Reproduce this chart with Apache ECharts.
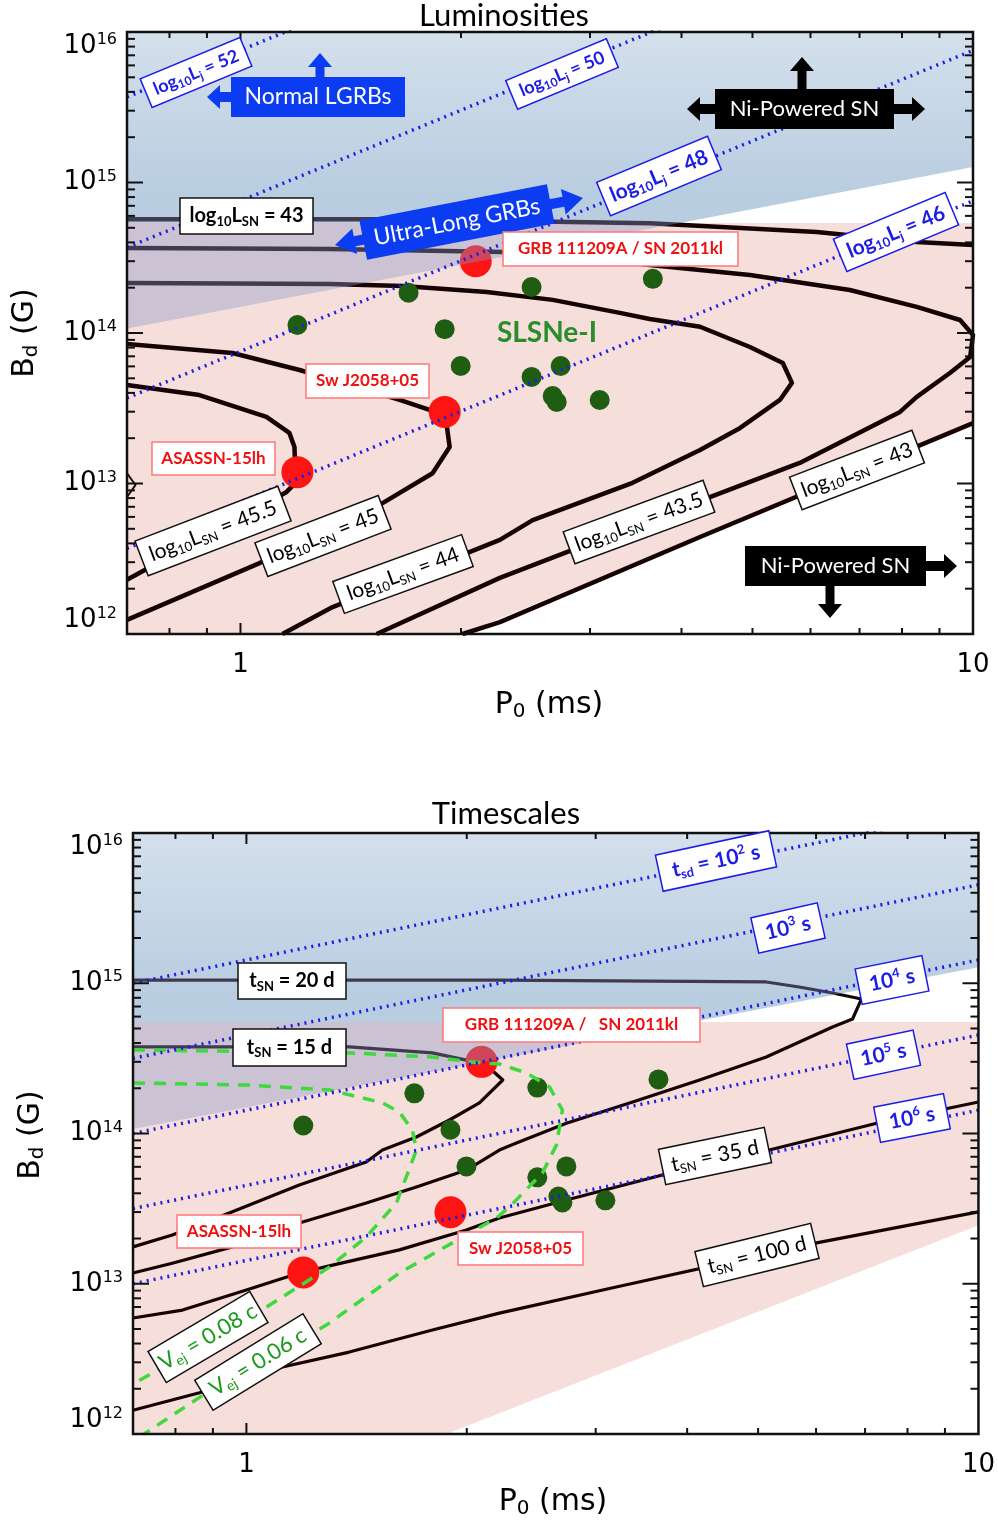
<!DOCTYPE html>
<html><head><meta charset="utf-8">
<script src="https://cdn.jsdelivr.net/npm/echarts@6/dist/echarts.min.js"></script>
<style>html,body{margin:0;padding:0;background:#fff}#c{width:998px;height:1521px}</style>
</head><body><div id="c"></div><script>
// ---------------- DATA ----------------
const P_RANGE = [0.7, 10];
const B_RANGE = [1e12, 1e16];
const X_TICK_LABELS = [1, 10];
const X_MAJOR_TICKS = [1];
const X_MINOR_TICKS = [0.8, 0.9, 2, 3, 4, 5, 6, 7, 8, 9];
const Y_MAJOR_TICKS = [1e13, 1e14, 1e15];
const Y_MINOR_TICKS = [2e12,3e12,4e12,5e12,6e12,7e12,8e12,9e12,
  2e13,3e13,4e13,5e13,6e13,7e13,8e13,9e13,
  2e14,3e14,4e14,5e14,6e14,7e14,8e14,9e14,
  2e15,3e15,4e15,5e15,6e15,7e15,8e15,9e15];

// SLSNe-I sample (P0 [ms], Bd [G])
const slsnP = [1.196, 1.696, 1.90, 1.998, 2.497, 3.655, 2.497, 2.736, 2.668, 2.702, 3.093];
const slsnB = [1.13e14, 1.85e14, 1.06e14, 6.04e13, 2.02e14, 2.29e14, 5.11e13, 6.04e13, 3.81e13, 3.48e13, 3.59e13];
// named events
const eventNames = ['GRB 111209A / SN 2011kl', 'Sw J2058+05', 'ASASSN-15lh'];
const eventP = [2.095, 1.90, 1.196];
const eventB = [3.0e14, 2.99e13, 1.19e13];

// regions
const grbRegionTop = [[0.7,1e16],[10,1e16],[10,1.27e15],[0.7,1.07e14]];
const snRegionTop  = [[0.7,1e12],[2.01,1e12],[10,2.52e13],[10,5.38e14],[0.7,5.38e14]];
const grbRegionBot = [[0.7,1e16],[10,1e16],[10,1.28e15],[0.7,1.07e14]];
const snRegionBot  = [[0.7,1e12],[1.876,1e12],[10,2.45e13],[10,5.52e14],[0.7,5.52e14]];

// jet luminosity lines (top)
const lj52 = [[0.7,3.70e15],[10,7.55e17]];
const lj50 = [[0.7,3.70e14],[10,7.55e16]];
const lj48 = [[0.7,3.70e13],[10,7.55e15]];
const lj46 = [[0.7,3.70e12],[10,7.55e14]];

// SN luminosity contours (top)
const lsn43Upper = [[0.7,5.71e14],[1.649,5.71e14],[3.62,5.37e14],[6.12,4.69e14],[8.38,4.03e14],[10,3.85e14]];
const lsn43Lower = [[2.01,1e12],[2.26,1.20e12],[4.24,4.41e12],[10,2.52e13]];
const lsn435 = [[0.7,3.67e14],[1.323,3.61e14],[2.295,3.45e14],[2.905,3.25e14],[3.62,2.83e14],[4.96,2.43e14],[6.79,1.93e14],[8.38,1.49e14],[9.60,1.22e14],[10,9.70e13],[9.91,6.93e13],[9.30,5.42e13],[8.38,3.76e13],[7.95,2.99e13],[5.80,1.37e13],[4.24,7.66e12],[2.26,2.36e12],[1.534,1e12]];
const lsn44 = [[0.7,2.15e14],[1.323,2.12e14],[1.664,2.05e14],[2.168,1.87e14],[2.668,1.66e14],[3.295,1.36e14],[3.62,1.24e14],[4.24,1.10e14],[4.96,8.07e13],[5.50,6.32e13],[5.66,4.66e13],[5.45,3.59e13],[4.81,2.34e13],[4.24,1.67e13],[3.43,1.01e13],[2.506,5.71e12],[2.26,4.22e12],[1.336,1.51e12],[1.141,1e12]];
const lsn45 = [[0.7,8.45e13],[0.975,7.36e13],[1.204,5.68e13],[1.649,3.59e13],[1.812,3.08e13],[1.912,2.45e13],[1.930,1.75e13],[1.829,1.17e13],[1.563,7.41e12],[1.062,2.96e12],[0.7,1.24e12]];
const lsn455 = [[0.7,4.51e13],[0.879,3.87e13],[1.085,2.77e13],[1.166,2.17e13],[1.185,1.75e13],[1.189,1.01e13],[1.156,8.79e12],[1.106,7.77e12],[0.7,2.29e12]];
const lsn46 = [[0.7,1.17e13],[0.719,9.77e12],[0.7,8.13e12]];

// spin-down timescale lines (bottom)
const tsd2 = [[0.7,1e15],[10,1.429e16]];
const tsd3 = [[0.7,3.162e14],[10,4.52e15]];
const tsd4 = [[0.7,1e14],[10,1.429e15]];
const tsd5 = [[0.7,3.162e13],[10,4.52e14]];
const tsd6 = [[0.7,1e13],[10,1.429e14]];

// SN timescale contours (bottom)
const tsn20 = [[0.7,1.05e15],[2.216,1.05e15],[5.13,1.02e15],[5.69,9.44e14],[6.32,8.61e14],[6.92,7.85e14],[6.73,5.78e14],[6.32,5.12e14],[5.13,3.23e14],[4.16,2.27e14],[3.37,1.62e14],[2.736,1.17e14],[2.338,8.65e13],[2.216,7.76e13],[1.998,5.71e13],[1.707,4.41e13],[1.458,3.45e13],[1.181,2.54e13],[0.957,1.76e13],[0.792,1.37e13],[0.7,1.18e13]];
const tsn15 = [[0.7,3.77e14],[1.382,3.77e14],[1.795,3.44e14],[1.998,3.08e14],[2.148,2.73e14],[2.24,2.27e14],[2.081,1.60e14],[1.894,1.23e14],[1.707,9.48e13],[1.534,7.76e13],[1.458,6.46e13],[1.181,4.54e13],[0.957,3.01e13],[0.792,2.11e13],[0.7,1.76e13]];
const tsn35 = [[0.7,5.92e12],[0.818,6.68e12],[1.0,9.08e12],[1.181,1.18e13],[1.311,1.33e13],[1.618,1.68e13],[1.998,2.28e13],[2.216,2.74e13],[2.736,3.61e13],[3.70,5.29e13],[5.18,7.76e13],[7.26,1.17e14],[10,1.62e14]];
const tsn100 = [[0.7,1.44e12],[0.863,1.88e12],[1.120,2.79e12],[1.382,3.51e12],[1.795,4.92e12],[2.216,6.38e12],[3.20,9.51e12],[6.01,1.87e13],[10,3.01e13]];
// ejecta velocity contours (bottom)
const vej08 = [[0.7,2.17e14],[1.009,2.10e14],[1.298,1.95e14],[1.534,1.60e14],[1.618,1.39e14],[1.686,1.05e14],[1.707,7.76e13],[1.603,3.45e13],[1.458,2.05e13],[1.298,1.29e13],[1.065,7.00e12],[0.7,2.15e12]];
const vej06 = [[0.7,3.60e14],[1.382,3.44e14],[1.795,3.23e14],[2.036,2.99e14],[2.216,2.90e14],[2.413,2.53e14],[2.594,2.04e14],[2.702,1.43e14],[2.651,8.37e13],[2.537,5.46e13],[2.287,3.24e13],[2.195,2.74e13],[1.618,1.18e13],[1.286,5.31e12],[0.882,1.88e12],[0.725,1e12]];

// ---------------- STYLE / HELPERS ----------------
const PINK = '#f6deda';
const BLUE_BOX = '#0b3cf2';
const LINE_BLACK = '#160404';
const DOT_BLUE = '#1c1ce6';
const DASH_GREEN = '#3fd93f';
const RED = '#ff1414';
const DKGREEN = '#1f5e12';

const chart = echarts.init(document.getElementById('c'), null, {renderer:'canvas'});

function polySeries(gi, pts, fill, z){
  return {type:'custom', xAxisIndex:gi, yAxisIndex:gi, z:z, silent:true, animation:false,
    data:[[1,1e14]],
    renderItem:function(params, api){
      return {type:'polygon', shape:{points: pts.map(function(p){return api.coord(p);})}, style:{fill:fill}};
    }};
}
function lineSeries(gi, data, color, width, type, z){
  return {type:'line', xAxisIndex:gi, yAxisIndex:gi, data:data, showSymbol:false, symbol:'none',
    silent:true, clip:true, z:z, animation:false,
    lineStyle:{color:color, width:width, type:type||'solid', cap:'butt', join:'round'}};
}
function tickSeries(gi, vals, axis, len){
  return {type:'custom', xAxisIndex:gi, yAxisIndex:gi, z:30, silent:true, animation:false, clip:false,
    data: vals.map(function(v){return axis==='x' ? [v, 1e14] : [1, v];}),
    renderItem:function(params, api){
      var st = {stroke:'#111', lineWidth:2};
      if(axis==='x'){
        var v = api.value(0);
        var a = api.coord([v, B_RANGE[0]]), b = api.coord([v, B_RANGE[1]]);
        return {type:'group', children:[
          {type:'line', shape:{x1:a[0],y1:a[1],x2:a[0],y2:a[1]-len}, style:st},
          {type:'line', shape:{x1:b[0],y1:b[1],x2:b[0],y2:b[1]+len}, style:st}]};
      } else {
        var w = api.value(1);
        var c = api.coord([P_RANGE[0], w]), d = api.coord([P_RANGE[1], w]);
        return {type:'group', children:[
          {type:'line', shape:{x1:c[0],y1:c[1],x2:c[0]+len,y2:c[1]}, style:st},
          {type:'line', shape:{x1:d[0],y1:d[1],x2:d[0]-len,y2:d[1]}, style:st}]};
      }
    }};
}
function frameSeries(gi){
  return {type:'custom', xAxisIndex:gi, yAxisIndex:gi, z:31, silent:true, animation:false, clip:false,
    data:[[1,1e14]],
    renderItem:function(params, api){
      var a = api.coord([P_RANGE[0], B_RANGE[1]]), b = api.coord([P_RANGE[1], B_RANGE[0]]);
      return {type:'rect', shape:{x:a[0], y:a[1], width:b[0]-a[0], height:b[1]-a[1]},
        style:{fill:null, stroke:'#111', lineWidth:2.5}};
    }};
}
function scatterSeries(gi, xs, ys, color, size, z){
  return {type:'scatter', xAxisIndex:gi, yAxisIndex:gi, z:z, silent:true, animation:false,
    data: xs.map(function(x,i){return [x, ys[i]];}), symbolSize:size,
    itemStyle:{color:color, opacity:1}};
}
// opaque light-blue base and translucent darkening veil for the GRB region
function blueBase(){
  return new echarts.graphic.LinearGradient(0,0,0,1,[
    {offset:0, color:'rgb(235,244,246)'},
    {offset:0.55, color:'rgb(217,239,240)'},
    {offset:1, color:'rgb(217,239,240)'}]);
}
function blueVeil(){
  return new echarts.graphic.LinearGradient(0,0,0,1,[
    {offset:0, color:'rgba(133,150,200,0.22)'},
    {offset:0.55, color:'rgba(133,150,200,0.38)'},
    {offset:1, color:'rgba(133,150,200,0.38)'}]);
}

function richSet(color, size, weight, fam){
  fam = fam || 'Lato';
  var base = {fill:color, color:color, fontSize:size, fontWeight:weight, fontFamily:fam, lineHeight:size+4};
  var small = Math.round(size*0.64);
  return {
    n: base,
    sub: {fill:color, color:color, fontSize:small, fontWeight:weight, fontFamily:fam, lineHeight:Math.round(size*0.42), verticalAlign:'bottom'},
    sup: {fill:color, color:color, fontSize:small, fontWeight:weight, fontFamily:fam, lineHeight:Math.round(size*0.42), verticalAlign:'top'}
  };
}
function box(cx, cy, w, h, deg, fill, stroke, lw, text, rich){
  return {type:'group', x:cx, y:cy, rotation:deg*Math.PI/180, silent:true, children:[
    {type:'rect', z:100, shape:{x:-w/2, y:-h/2, width:w, height:h}, style:{fill:fill, stroke:stroke, lineWidth:lw}},
    {type:'text', z:101, x:0, y:0, style:{text:text, rich:rich, align:'center', verticalAlign:'middle'}}
  ]};
}
function arrow(x0,y0,x1,y1,sw,hl,hw,fill){
  var dx=x1-x0, dy=y1-y0, L=Math.hypot(dx,dy), ux=dx/L, uy=dy/L, nx=-uy, ny=ux;
  var bx=x1-ux*hl, by=y1-uy*hl;
  var pts=[[x0+nx*sw/2,y0+ny*sw/2],[bx+nx*sw/2,by+ny*sw/2],[bx+nx*hw/2,by+ny*hw/2],[x1,y1],
           [bx-nx*hw/2,by-ny*hw/2],[bx-nx*sw/2,by-ny*sw/2],[x0-nx*sw/2,y0-ny*sw/2]];
  return {type:'polygon', z:99, silent:true, shape:{points:pts}, style:{fill:fill}};
}
function plainText(x, y, text, rich, deg){
  return {type:'text', z:101, x:x, y:y, rotation:(deg||0)*Math.PI/180, silent:true,
    style:{text:text, rich:rich, align:'center', verticalAlign:'middle'}};
}

var rBlueS = richSet(DOT_BLUE, 18, 'bold');
var rBlueL = richSet(DOT_BLUE, 21, 'bold');
var rBlk = richSet('#000', 21, 'normal');
var rBlkB = richSet('#000', 20, 'bold');
var rRed = richSet('#f01010', 17, 'bold');
var rGreen = richSet('#1a9a1a', 22, 'normal');
var rWhite = richSet('#fff', 23, 'normal');
var rWhiteN = richSet('#fff', 22, 'normal');
var rWhiteL = richSet('#fff', 23, 'normal');
var rTitle = richSet('#000', 31, 'normal');
var rAxis = {a:{fill:'#000', fontSize:30, fontFamily:'DejaVu Sans', lineHeight:34},
             s:{fill:'#000', fontSize:20, fontFamily:'DejaVu Sans', lineHeight:12, verticalAlign:'bottom'}};
var rSLSN = {g:{fill:'#2a8c2a', fontSize:28, fontWeight:'bold', fontFamily:'Lato'}};

function lsnText(v){ return '{n|log}{sub|10}{n|L}{sub|SN}{n| = '+v+'}'; }
function ljText(v){ return '{n|log}{sub|10}{n|L}{sub|j}{n| = '+v+'}'; }

var graphics = [
  // titles & axis names
  plainText(504, 16, '{n|Luminosities}', rTitle),
  plainText(506, 814, '{n|Timescales}', rTitle),
  plainText(549, 705, '{a|P}{s|0}{a| (ms)}', rAxis),
  plainText(553, 1502, '{a|P}{s|0}{a| (ms)}', rAxis),
  plainText(25, 333, '{a|B}{s|d}{a| (G)}', rAxis, 90),
  plainText(31, 1135, '{a|B}{s|d}{a| (G)}', rAxis, 90),

  // ---- top panel annotations ----
  arrow(320, 80, 320, 53, 9, 14, 24, BLUE_BOX),
  arrow(234, 97, 207, 97, 10, 13, 24, BLUE_BOX),
  box(318, 97, 174, 40, 0, BLUE_BOX, null, 0, '{n|Normal LGRBs}', rWhite),

  arrow(802, 92, 802, 57, 9, 14, 24, '#000'),
  arrow(718, 109, 687, 109, 10, 13, 24, '#000'),
  arrow(891, 109, 925, 109, 10, 13, 24, '#000'),
  box(804.5, 109, 179, 40, 0, '#000', null, 0, '{n|Ni-Powered SN}', rWhiteN),

  arrow(923, 566, 957, 566, 10, 13, 24, '#000'),
  arrow(830, 583, 830, 618, 9, 14, 24, '#000'),
  box(835.5, 566, 181, 40, 0, '#000', null, 0, '{n|Ni-Powered SN}', rWhiteN),

  arrow(459, 221.5, 335, 245, 10, 20, 26, BLUE_BOX),
  arrow(459, 221.5, 583, 198, 10, 20, 26, BLUE_BOX),
  box(457, 222, 191, 40, 11, BLUE_BOX, null, 0, '{n|Ultra-Long GRBs}', rWhiteL),

  box(196, 72.5, 108, 31, 22.6, '#fff', DOT_BLUE, 1.5, ljText(52), rBlueS),
  box(562, 74, 109, 31, 22.6, '#fff', DOT_BLUE, 1.5, ljText(50), rBlueS),
  box(659, 176, 120, 36, 22.6, '#fff', DOT_BLUE, 1.5, ljText(48), rBlueL),
  box(896, 232, 121, 35, 22.6, '#fff', DOT_BLUE, 1.5, ljText(46), rBlueL),

  box(246.5, 216, 133, 36, 0, '#fff', '#111', 1.5, lsnText(43), rBlkB),
  box(213, 531, 153, 37, 21, '#fff', '#111', 1.5, lsnText('45.5'), rBlk),
  box(323, 536, 132, 36, 21, '#fff', '#111', 1.5, lsnText(45), rBlk),
  box(403, 574, 137, 34, 20, '#fff', '#111', 1.5, lsnText(44), rBlk),
  box(639, 522, 149, 34, 20.3, '#fff', '#111', 1.5, lsnText('43.5'), rBlk),
  box(857, 470, 131, 35, 21, '#fff', '#111', 1.5, lsnText(43), rBlk),

  box(620.5, 249, 235, 34, 0, '#fff', '#ff7878', 1.5, '{n|GRB 111209A / SN 2011kl}', rRed),
  box(367.5, 381, 123, 34, 0, '#fff', '#ff7878', 1.5, '{n|Sw J2058+05}', rRed),
  box(213.5, 458.5, 123, 33, 0, '#fff', '#ff7878', 1.5, '{n|ASASSN-15lh}', rRed),
  plainText(547, 333, '{g|SLSNe-I}', rSLSN),

  // ---- bottom panel annotations ----
  box(716, 861, 116, 37, 12.1, '#fff', DOT_BLUE, 1.5, '{n|t}{sub|sd}{n| = 10}{sup|2}{n| s}', rBlueL),
  box(788, 928, 68, 36, 12.7, '#fff', DOT_BLUE, 1.5, '{n|10}{sup|3}{n| s}', rBlueL),
  box(892, 980, 68, 36, 11.3, '#fff', DOT_BLUE, 1.5, '{n|10}{sup|4}{n| s}', rBlueL),
  box(883.5, 1054.7, 68, 36, 12, '#fff', DOT_BLUE, 1.5, '{n|10}{sup|5}{n| s}', rBlueL),
  box(912, 1118, 71, 36, 11, '#fff', DOT_BLUE, 1.5, '{n|10}{sup|6}{n| s}', rBlueL),

  box(292, 981, 108, 36, 0, '#fff', '#111', 1.5, '{n|t}{sub|SN}{n| = 20 d}', rBlkB),
  box(289.5, 1047.5, 113, 37, 0, '#fff', '#111', 1.5, '{n|t}{sub|SN}{n| = 15 d}', rBlkB),
  box(715, 1156, 108, 36, 11.7, '#fff', '#111', 1.5, '{n|t}{sub|SN}{n| = 35 d}', rBlk),
  box(757, 1255, 119, 36, 13.7, '#fff', '#111', 1.5, '{n|t}{sub|SN}{n| = 100 d}', rBlk),

  box(571.5, 1025, 257, 34, 0, '#fff', '#ff7878', 1.5, '{n|GRB 111209A /   SN 2011kl}', rRed),
  box(239, 1231.5, 124, 33, 0, '#fff', '#ff7878', 1.5, '{n|ASASSN-15lh}', rRed),
  box(520.5, 1248.5, 125, 33, 0, '#fff', '#ff7878', 1.5, '{n|Sw J2058+05}', rRed),

  box(208, 1337, 118, 36, 30.5, '#fff', '#111', 1.5, '{n|V}{sub|ej}{n| = 0.08 c}', rGreen),
  box(258, 1362, 127, 35, 31.6, '#fff', '#111', 1.5, '{n|V}{sub|ej}{n| = 0.06 c}', rGreen)
];

function yAxisCfg(gi){
  return {type:'log', logBase:10, gridIndex:gi, min:B_RANGE[0], max:B_RANGE[1],
    axisLine:{show:false}, axisTick:{show:false}, splitLine:{show:false}, minorTick:{show:false},
    axisLabel:{margin:10, showMinLabel:true, showMaxLabel:true,
      verticalAlignMaxLabel:'top', verticalAlignMinLabel:'bottom',
      formatter:function(v){ return '{b|10}{s|'+Math.round(Math.log10(v))+'}'; },
      rich:{b:{fontSize:26, fontFamily:'DejaVu Sans', color:'#000', lineHeight:28},
            s:{fontSize:16, fontFamily:'DejaVu Sans', color:'#000', lineHeight:14, verticalAlign:'top'}}}};
}
function xAxisCfg(gi){
  return {type:'log', logBase:10, gridIndex:gi, min:P_RANGE[0], max:P_RANGE[1],
    axisLine:{show:false}, axisTick:{show:false}, splitLine:{show:false}, minorTick:{show:false},
    axisLabel:{margin:18, showMinLabel:true, showMaxLabel:true, fontSize:26, fontFamily:'DejaVu Sans', color:'#000',
      formatter:function(v){
        for (var i=0;i<X_TICK_LABELS.length;i++){ if (Math.abs(v/X_TICK_LABELS[i]-1)<1e-6) return String(X_TICK_LABELS[i]); }
        return '';
      }}};
}

var DOT = [2, 5];
var series = [
  // ---- top ----
  polySeries(0, grbRegionTop, blueBase(), 1),
  polySeries(0, snRegionTop, PINK, 2),
  lineSeries(0, lsn43Upper, LINE_BLACK, 4.5, 'solid', 3),
  lineSeries(0, lsn43Lower, LINE_BLACK, 4.5, 'solid', 3),
  lineSeries(0, lsn435, LINE_BLACK, 4.5, 'solid', 3),
  lineSeries(0, lsn44, LINE_BLACK, 4.5, 'solid', 3),
  lineSeries(0, lsn45, LINE_BLACK, 4.5, 'solid', 3),
  lineSeries(0, lsn455, LINE_BLACK, 4.5, 'solid', 3),
  lineSeries(0, lsn46, LINE_BLACK, 2, 'solid', 3),
  scatterSeries(0, slsnP, slsnB, DKGREEN, 20, 4),
  scatterSeries(0, eventP, eventB, RED, 32, 4),
  polySeries(0, grbRegionTop, blueVeil(), 5),
  lineSeries(0, lj52, DOT_BLUE, 3.5, DOT, 6),
  lineSeries(0, lj50, DOT_BLUE, 3.5, DOT, 6),
  lineSeries(0, lj48, DOT_BLUE, 3.5, DOT, 6),
  lineSeries(0, lj46, DOT_BLUE, 3.5, DOT, 6),
  tickSeries(0, X_MAJOR_TICKS, 'x', 11),
  tickSeries(0, X_MINOR_TICKS, 'x', 6),
  tickSeries(0, Y_MAJOR_TICKS, 'y', 16),
  tickSeries(0, Y_MINOR_TICKS, 'y', 8),
  frameSeries(0),
  // ---- bottom ----
  polySeries(1, grbRegionBot, blueBase(), 1),
  polySeries(1, snRegionBot, PINK, 2),
  lineSeries(1, tsn20, LINE_BLACK, 3.2, 'solid', 3),
  lineSeries(1, tsn15, LINE_BLACK, 3.2, 'solid', 3),
  lineSeries(1, tsn35, LINE_BLACK, 3.2, 'solid', 3),
  lineSeries(1, tsn100, LINE_BLACK, 3.2, 'solid', 3),
  scatterSeries(1, slsnP, slsnB, DKGREEN, 20, 4),
  scatterSeries(1, eventP, eventB, RED, 32, 4),
  polySeries(1, grbRegionBot, blueVeil(), 5),
  lineSeries(1, vej08, DASH_GREEN, 3.5, [12,9], 6),
  lineSeries(1, vej06, DASH_GREEN, 3.5, [12,9], 6),
  lineSeries(1, tsd2, DOT_BLUE, 3.5, DOT, 6),
  lineSeries(1, tsd3, DOT_BLUE, 3.5, DOT, 6),
  lineSeries(1, tsd4, DOT_BLUE, 3.5, DOT, 6),
  lineSeries(1, tsd5, DOT_BLUE, 3.5, DOT, 6),
  lineSeries(1, tsd6, DOT_BLUE, 3.5, DOT, 6),
  tickSeries(1, X_MAJOR_TICKS, 'x', 11),
  tickSeries(1, X_MINOR_TICKS, 'x', 6),
  tickSeries(1, Y_MAJOR_TICKS, 'y', 16),
  tickSeries(1, Y_MINOR_TICKS, 'y', 8),
  frameSeries(1)
];

chart.setOption({
  backgroundColor:'#fff',
  animation:false,
  grid:[
    {left:127, top:32, width:846, height:602, show:false},
    {left:133, top:833, width:846, height:601, show:false}
  ],
  xAxis:[xAxisCfg(0), xAxisCfg(1)],
  yAxis:[yAxisCfg(0), yAxisCfg(1)],
  series:series,
  graphic:{elements:graphics}
});
</script></body></html>
